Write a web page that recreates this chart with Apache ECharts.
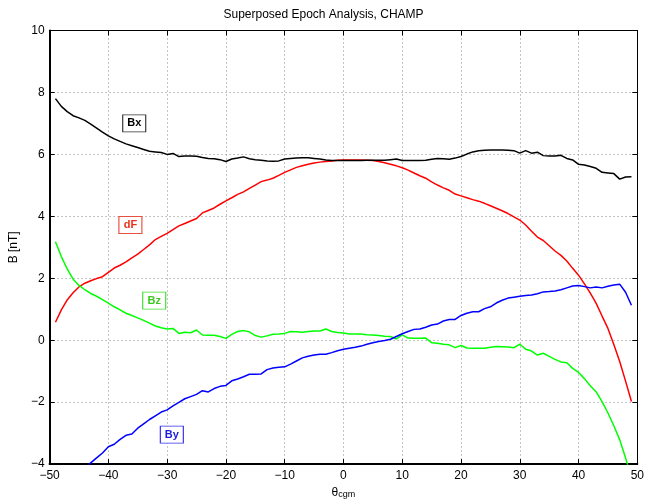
<!DOCTYPE html>
<html>
<head>
<meta charset="utf-8">
<script src="https://cdn.jsdelivr.net/npm/echarts@6/dist/echarts.min.js"></script>
<style>
html,body{margin:0;padding:0;background:#fff;}
#chart{width:647px;height:504px;}
</style>
</head>
<body>
<div id="chart"></div>
<script>
// ---- data ----
const xs = [];
for (let v = -49; v <= 49; v++) xs.push(v);

const bx = [7.80,7.55,7.38,7.25,7.18,7.10,6.98,6.85,6.72,6.60,
            6.50,6.42,6.34,6.28,6.22,6.16,6.10,6.08,6.06,6.00,
            6.03,5.93,5.95,5.95,5.94,5.90,5.87,5.86,5.83,5.77,
            5.85,5.88,5.92,5.86,5.83,5.81,5.79,5.78,5.79,5.85,
            5.87,5.88,5.89,5.89,5.87,5.85,5.82,5.80,5.80,5.80,
            5.80,5.80,5.80,5.81,5.81,5.81,5.81,5.83,5.85,5.80,
            5.80,5.80,5.80,5.81,5.84,5.87,5.86,5.84,5.88,5.93,
            6.01,6.08,6.12,6.13,6.14,6.14,6.14,6.13,6.12,6.04,
            6.12,6.04,6.07,5.96,5.95,5.95,5.97,5.87,5.82,5.68,
            5.66,5.61,5.55,5.42,5.40,5.38,5.20,5.27,5.28];

const dF = [0.58,0.98,1.30,1.53,1.72,1.84,1.92,1.99,2.05,2.19,
            2.33,2.42,2.53,2.66,2.78,2.93,3.08,3.25,3.35,3.45,
            3.57,3.69,3.77,3.85,3.93,4.11,4.19,4.27,4.39,4.50,
            4.60,4.71,4.79,4.90,5.01,5.12,5.17,5.23,5.32,5.42,
            5.50,5.58,5.63,5.68,5.72,5.75,5.77,5.79,5.81,5.82,
            5.82,5.82,5.82,5.81,5.80,5.77,5.73,5.68,5.63,5.57,
            5.49,5.40,5.31,5.23,5.11,5.01,4.92,4.84,4.72,4.66,
            4.60,4.54,4.49,4.42,4.34,4.26,4.18,4.09,3.98,3.88,
            3.72,3.52,3.33,3.22,3.05,2.88,2.74,2.56,2.32,2.10,
            1.82,1.52,1.19,0.78,0.38,-0.14,-0.69,-1.32,-1.98];

const bz = [3.18,2.70,2.30,1.97,1.77,1.63,1.51,1.42,1.31,1.20,
            1.08,0.98,0.87,0.80,0.72,0.64,0.55,0.46,0.40,0.36,
            0.38,0.22,0.26,0.24,0.33,0.17,0.16,0.16,0.12,0.06,
            0.19,0.28,0.31,0.27,0.15,0.10,0.14,0.19,0.20,0.22,
            0.28,0.27,0.26,0.28,0.30,0.30,0.36,0.28,0.25,0.23,
            0.20,0.20,0.20,0.18,0.17,0.15,0.13,0.12,0.04,0.17,
            0.07,0.06,0.06,0.07,-0.08,-0.10,-0.13,-0.15,-0.24,-0.17,
            -0.25,-0.26,-0.26,-0.26,-0.23,-0.20,-0.21,-0.22,-0.24,-0.13,
            -0.29,-0.35,-0.48,-0.42,-0.52,-0.62,-0.70,-0.73,-0.91,-1.04,
            -1.24,-1.47,-1.67,-1.98,-2.35,-2.76,-3.21,-3.80,-4.45];

// By starts at theta = -44 (earlier values lie below the axis range)
const byStart = -44;
const by = [-4.18,-3.96,-3.80,-3.64,-3.44,-3.36,-3.20,-3.07,-3.03,-2.84,
            -2.70,-2.56,-2.44,-2.32,-2.25,-2.12,-2.01,-1.89,-1.82,-1.75,
            -1.63,-1.67,-1.56,-1.49,-1.46,-1.31,-1.25,-1.18,-1.10,-1.10,
            -1.09,-0.95,-0.90,-0.87,-0.86,-0.77,-0.67,-0.57,-0.52,-0.48,
            -0.45,-0.45,-0.40,-0.34,-0.29,-0.26,-0.23,-0.19,-0.13,-0.08,
            -0.04,-0.01,0.03,0.12,0.21,0.28,0.35,0.36,0.42,0.49,
            0.52,0.62,0.67,0.67,0.80,0.87,0.92,0.92,1.02,1.08,
            1.20,1.29,1.36,1.39,1.42,1.44,1.46,1.50,1.56,1.57,
            1.59,1.63,1.69,1.75,1.77,1.73,1.69,1.72,1.69,1.74,
            1.78,1.81,1.55,1.13];

const xTicks = [-50,-40,-30,-20,-10,0,10,20,30,40,50];
const yTicks = [-4,-2,0,2,4,6,8,10];

const seriesNames = ['Bx','dF','Bz','By'];
// label anchor points in data space
const labelAnchors = {Bx:[-35.6,7.0], dF:[-36.25,3.72], Bz:[-32.2,1.28], By:[-29.2,-3.05]};

// ---- chart ----
const colors = {Bx:'#000000', dF:'#ff0000', Bz:'#00ff00', By:'#0000ff'};
const textColors = {Bx:'#000000', dF:'#e8301c', Bz:'#3cc81e', By:'#1a1ae0'};
const borderColors = {Bx:'#333333', dF:'#e85040', Bz:'#40e030', By:'#3030f0'};

function pairs(start, arr){ return arr.map((v,i)=>[start+i, v]); }
const dataMap = {
  Bx: pairs(xs[0], bx),
  dF: pairs(xs[0], dF),
  Bz: pairs(xs[0], bz),
  By: pairs(byStart, by)
};
const minusFmt = v => String(v).replace('-', '\u2212');

const FONT = 'Liberation Sans, Arial, Helvetica, sans-serif';
const chart = echarts.init(document.getElementById('chart'), null, {renderer:'canvas'});

const gridLine = {show:true, lineStyle:{color:'#8a8a8a', type:[1,3], width:1}};

chart.setOption({
  animation:false,
  backgroundColor:'#ffffff',
  title:{
    text:'Superposed Epoch Analysis, CHAMP',
    left:'center', top:4,
    textStyle:{fontFamily:FONT, fontSize:12, fontWeight:'normal', color:'#000'}
  },
  grid:{left:45, right:6, top:30.5, bottom:38, containLabel:false},
  xAxis:[
    {
      type:'value', min:xTicks[0], max:xTicks[xTicks.length-1], interval:10,
      position:'bottom',
      name:'{t|θ}{s|cgm}', nameLocation:'middle', nameGap:17,
      nameTextStyle:{rich:{t:{fontFamily:FONT, fontSize:12, color:'#000', verticalAlign:'bottom'},
                           s:{fontFamily:FONT, fontSize:9, color:'#000', padding:[8,0,0,0], verticalAlign:'bottom'}}},
      axisLine:{show:true, onZero:false, lineStyle:{color:'#000', width:2}},
      axisTick:{show:true, inside:true, length:5, lineStyle:{color:'#000', width:1}},
      axisLabel:{fontFamily:FONT, fontSize:12, color:'#000', margin:6, formatter:minusFmt},
      splitLine:gridLine
    },
    {
      type:'value', min:xTicks[0], max:xTicks[xTicks.length-1], interval:10,
      position:'top',
      axisLine:{show:true, onZero:false, lineStyle:{color:'#000', width:1}},
      axisTick:{show:true, inside:true, length:5, lineStyle:{color:'#000', width:1}},
      axisLabel:{show:false}, splitLine:{show:false}
    }
  ],
  yAxis:[
    {
      type:'value', min:yTicks[0], max:yTicks[yTicks.length-1], interval:2,
      position:'left',
      name:'B [nT]', nameLocation:'middle', nameGap:27, nameRotate:90,
      nameTextStyle:{fontFamily:FONT, fontSize:12, color:'#000'},
      axisLine:{show:true, onZero:false, lineStyle:{color:'#000', width:2}},
      axisTick:{show:true, inside:true, length:5, lineStyle:{color:'#000', width:1}},
      axisLabel:{fontFamily:FONT, fontSize:12, color:'#000', margin:5, formatter:minusFmt},
      splitLine:gridLine
    },
    {
      type:'value', min:yTicks[0], max:yTicks[yTicks.length-1], interval:2,
      position:'right',
      axisLine:{show:true, onZero:false, lineStyle:{color:'#000', width:1}},
      axisTick:{show:true, inside:true, length:5, lineStyle:{color:'#000', width:1}},
      axisLabel:{show:false}, splitLine:{show:false}
    }
  ],
  series: seriesNames.map(n => ({
    name:n, type:'line', data:dataMap[n], showSymbol:false, symbol:'none',
    clip:true, smooth:false,
    lineStyle:{color:colors[n], width:1.5},
    itemStyle:{color:colors[n]},
    z: n==='Bx'?5:4,
    markPoint:{
      silent:true,
      symbol:'rect', symbolSize:[23,17],
      itemStyle:{color:'#ffffff', borderColor:borderColors[n], borderWidth:1},
      label:{show:true, position:'inside', formatter:n, color:textColors[n],
             fontFamily:FONT, fontSize:11, fontWeight:'bold'},
      data:[{coord:labelAnchors[n]}]
    }
  }))
});
</script>
</body>
</html>
